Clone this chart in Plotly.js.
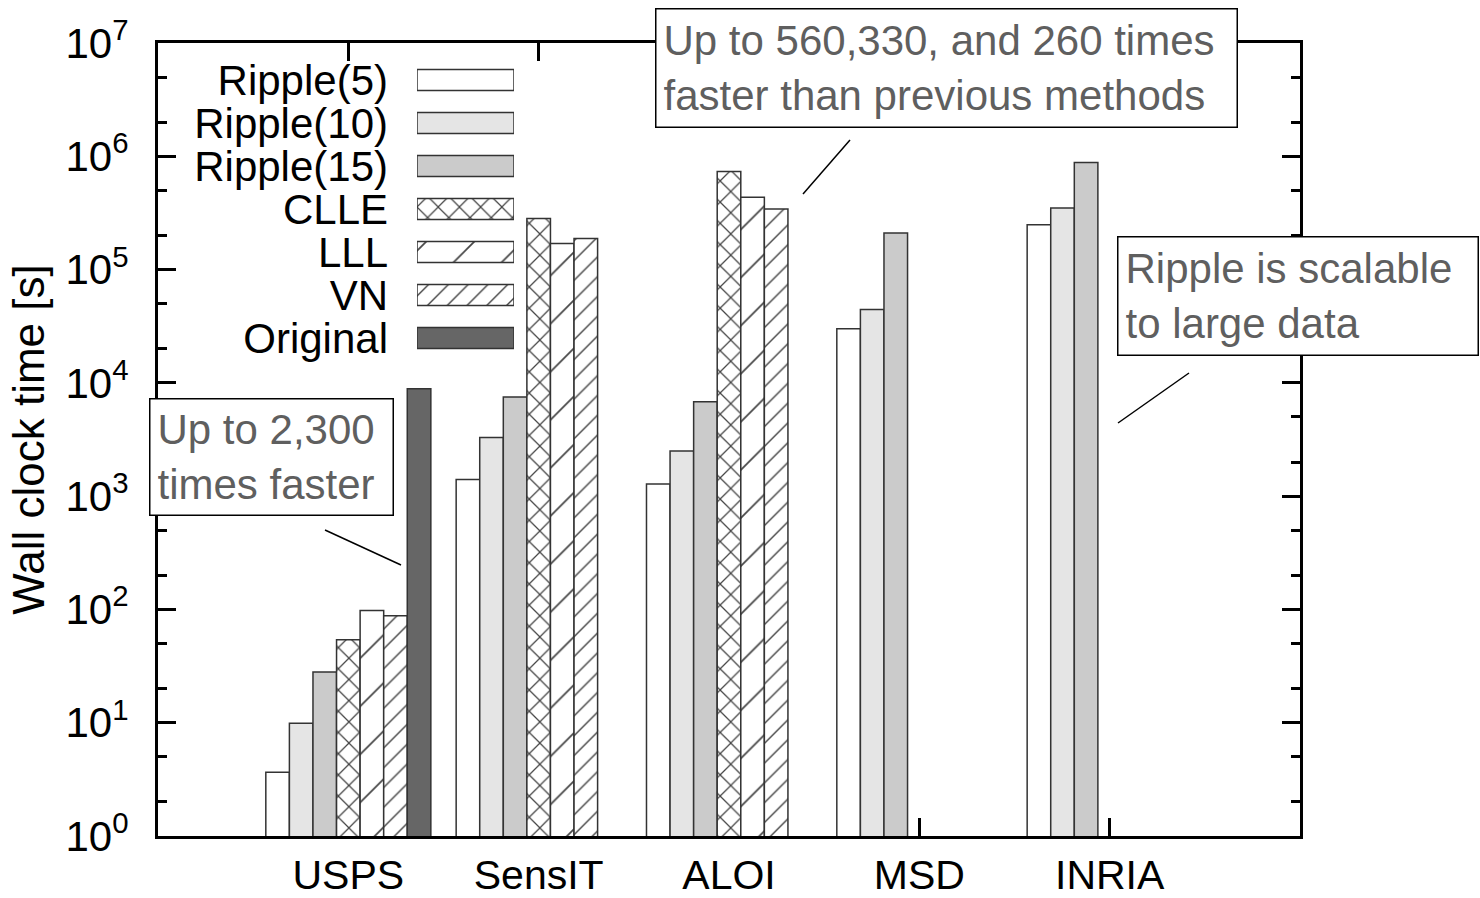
<!DOCTYPE html>
<html>
<head>
<meta charset="utf-8">
<script src="https://cdn.plot.ly/plotly-3.0.1.min.js"></script>
<style>html,body{margin:0;padding:0;background:#fff;}#chart{width:1480px;height:898px;}</style>
</head>
<body>
<div id="chart"></div>
<script>
// ---- data ----
const categories = ['USPS', 'SensIT', 'ALOI', 'MSD', 'INRIA'];
const seriesNames = ['Ripple(5)', 'Ripple(10)', 'Ripple(15)', 'CLLE', 'LLL', 'VN', 'Original'];
const ripple5  = [3.65, 1400, 1280, 30000, 249000];
const ripple10 = [9.9, 3300, 2500, 44500, 350000];
const ripple15 = [28, 7500, 6800, 210000, 880000];
const clle     = [54, 283000, 735000, null, null];
const lll      = [98, 170000, 434000, null, null];
const vn       = [88, 188000, 342000, null, null];
const original = [8870, null, null, null, null];
const yTickVals = [1, 10, 100, 1e3, 1e4, 1e5, 1e6, 1e7];
const yTickText = ['10<sup>0</sup>', '10<sup>1</sup>', '10<sup>2</sup>', '10<sup>3</sup>',
                   '10<sup>4</sup>', '10<sup>5</sup>', '10<sup>6</sup>', '10<sup>7</sup>'];
const yMinorVals = [2, 5, 20, 50, 200, 500, 2e3, 5e3, 2e4, 5e4, 2e5, 5e5, 2e6, 5e6];
const notes = ['Up to 2,300<br>times faster',
               'Up to 560,330, and 260 times<br>faster than previous methods',
               'Ripple is scalable<br>to large data'];

// ---- styles ----
const FONT = 'Liberation Sans, Arial, Helvetica, sans-serif';
const EDGE = '#333333';
const styles = [
  {color: '#ffffff', shape: '',  size: 8,  sol: 0.2},
  {color: '#e5e5e5', shape: '',  size: 8,  sol: 0.2},
  {color: '#cbcbcb', shape: '',  size: 8,  sol: 0.2},
  {color: '#ffffff', shape: 'x', size: 15, sol: 0.16},
  {color: '#ffffff', shape: '/', size: 34, sol: 0.05},
  {color: '#ffffff', shape: '/', size: 14, sol: 0.1},
  {color: '#666666', shape: '',  size: 8,  sol: 0.2}
];
const values = [ripple5, ripple10, ripple15, clle, lll, vn, original];

function markerFor(s) {
  return {
    color: s.color,
    line: {color: EDGE, width: 1.5},
    pattern: {shape: s.shape, size: s.size, solidity: s.sol,
              fgcolor: '#444444', bgcolor: s.color, fillmode: 'replace'}
  };
}

const traces = values.map((v, i) => ({
  type: 'bar', name: seriesNames[i], x: categories, y: v,
  showlegend: false, hoverinfo: 'skip', marker: markerFor(styles[i])
}));

// legend drawn as a small horizontal-bar subplot (text to the left of each swatch)
seriesNames.forEach((name, i) => {
  traces.push({
    type: 'bar', orientation: 'h', x: [1], y: [name],
    xaxis: 'x2', yaxis: 'y2', width: 0.49, offsetgroup: 'legendkey',
    showlegend: false, hoverinfo: 'skip', marker: markerFor(styles[i])
  });
});

// pixel helpers for the plot frame (left 158, right 1300, top 43, bottom 836)
const PL = 158, PR = 1300, PT = 43, PB = 836;
const px = x => (x - PL) / (PR - PL);
const py = y => (PB - y) / (PB - PT);

const boxStyle = {xref: 'paper', yref: 'paper', xanchor: 'left', yanchor: 'top',
  showarrow: false, align: 'left', valign: 'middle', bgcolor: '#ffffff',
  bordercolor: '#000000', borderwidth: 1.5, borderpad: 7,
  font: {family: FONT, size: 42, color: '#5f5f5f'}};

const annotations = [
  Object.assign({}, boxStyle, {text: notes[0], x: px(149), y: py(398), width: 228, height: 101}),
  Object.assign({}, boxStyle, {text: notes[1], x: px(655), y: py(8), width: 566, height: 103}),
  Object.assign({}, boxStyle, {text: notes[2], x: px(1117), y: py(236), width: 345, height: 103})
];

const lineStyle = {type: 'line', xref: 'paper', yref: 'paper', line: {color: '#000000', width: 1.5}};
const shapes = [
  Object.assign({}, lineStyle, {x0: px(325), y0: py(530), x1: px(401), y1: py(565)}),
  Object.assign({}, lineStyle, {x0: px(850), y0: py(140), x1: px(803), y1: py(194)}),
  Object.assign({}, lineStyle, {x0: px(1189), y0: py(373), x1: px(1118), y1: py(423)})
];

const layout = {
  width: 1480, height: 898,
  margin: {l: PL, r: 1480 - PR, t: PT, b: 898 - PB, pad: 0},
  paper_bgcolor: '#ffffff', plot_bgcolor: 'rgba(0,0,0,0)',
  font: {family: FONT, size: 42, color: '#000000'},
  barmode: 'group', bargap: 0.133, bargroupgap: 0,
  xaxis: {
    type: 'category', range: [-1, 5], domain: [0, 1],
    showline: true, linecolor: '#000000', linewidth: 3, mirror: 'allticks',
    ticks: 'inside', ticklen: 18, tickwidth: 3, tickcolor: '#000000',
    showgrid: false, zeroline: false, layer: 'below traces',
    tickfont: {family: FONT, size: 41, color: '#000000'}, ticklabelstandoff: 1,
    fixedrange: true
  },
  yaxis: {
    type: 'log', range: [0, 7], domain: [0, 1],
    showline: true, linecolor: '#000000', linewidth: 3, mirror: 'allticks',
    ticks: 'inside', ticklen: 18, tickwidth: 3, tickcolor: '#000000',
    tickmode: 'array', tickvals: yTickVals, ticktext: yTickText,
    minor: {tickmode: 'array', tickvals: yMinorVals, ticks: 'inside', ticklen: 9,
            tickwidth: 3, tickcolor: '#000000', showgrid: false},
    showgrid: false, zeroline: false,
    tickfont: {family: FONT, size: 42, color: '#000000'}, ticklabelstandoff: 18,
    title: {text: 'Wall clock time [s]', font: {family: FONT, size: 44, color: '#000000'}, standoff: 8},
    fixedrange: true
  },
  xaxis2: {domain: [px(417), px(514)], range: [0, 1], anchor: 'y2', visible: false, fixedrange: true},
  yaxis2: {
    domain: [py(359.5), py(58.5)], anchor: 'x2', type: 'category', autorange: 'reversed',
    tickmode: 'array', tickvals: seriesNames, ticktext: seriesNames,
    showline: false, showgrid: false, zeroline: false, ticks: '',
    tickfont: {family: FONT, size: 42, color: '#000000'}, ticklabelstandoff: 28,
    fixedrange: true
  },
  annotations: annotations,
  shapes: shapes
};

Plotly.newPlot('chart', traces, layout, {staticPlot: true, displayModeBar: false});
</script>
</body>
</html>
